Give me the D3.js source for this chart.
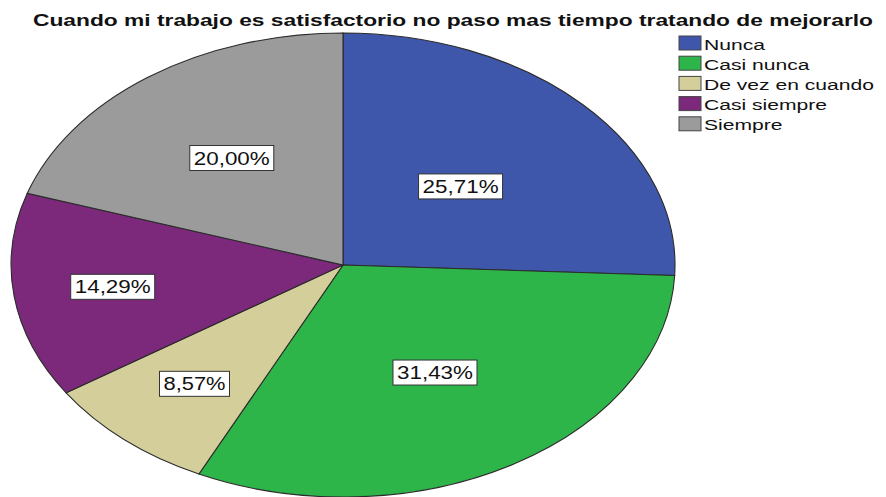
<!DOCTYPE html>
<meta charset="utf-8">
<head>
    <title>Cuando mi trabajo es satisfactorio</title>
    <style>
        body { margin: 0; background: #fff; }
        text { font-family: "Liberation Sans", Arial, sans-serif; fill: #111; }
    </style>
</head>
<body>
    <script src="https://cdn.jsdelivr.net/npm/d3@7"></script>
    <script>
        // data
        var categories = ["Nunca", "Casi nunca", "De vez en cuando", "Casi siempre", "Siempre"];
        var percents = [25.71, 31.43, 8.57, 14.29, 20.00];
        var colors = ["#3f57aa", "#2db54a", "#d4cf9a", "#7c297c", "#9b9b9b"];
        var titleText = "Cuando mi trabajo es satisfactorio no paso mas tiempo tratando de mejorarlo";

        // layout: the picture is an ellipse, so draw a unit pie and stretch it
        var width = 886, height = 497;
        var cx = 343, cy = 265, rx = 332, ry = 232;
        // label distance from centre, as a share of the radius
        var labelFrac = [0.49, 0.54, 0.68, 0.70, 0.57];

        var data = categories.map(function(c, i) {
            return {name: c, value: percents[i], color: colors[i], lf: labelFrac[i]};
        });

        var svg = d3.select("body").append("svg")
            .attr("width", width)
            .attr("height", height);

        // title, stretched like the original
        svg.append("text")
            .attr("x", 453)
            .attr("y", 26)
            .attr("text-anchor", "middle")
            .style("font-size", "17px")
            .style("font-weight", "bold")
            .attr("textLength", 840)
            .attr("lengthAdjust", "spacingAndGlyphs")
            .text(titleText);

        var pie = d3.pie().sort(null).value(d => d.value);
        var arcs = pie(data);
        var arc = d3.arc().innerRadius(0).outerRadius(1);

        var pieG = svg.append("g")
            .attr("transform", "translate(" + cx + "," + cy + ") scale(" + rx + "," + ry + ")");

        pieG.selectAll("path")
            .data(arcs)
            .enter().append("path")
            .attr("d", arc)
            .attr("fill", d => d.data.color)
            .attr("stroke", "#2b2b2b")
            .attr("stroke-width", 1.1)
            .attr("vector-effect", "non-scaling-stroke");

        // percentage labels in white boxes
        var fmt = v => v.toFixed(2).replace(".", ",") + "%";
        var labels = svg.selectAll("g.lbl")
            .data(arcs)
            .enter().append("g")
            .attr("class", "lbl")
            .attr("transform", function(d) {
                var a = (d.startAngle + d.endAngle) / 2;
                var x = cx + rx * Math.sin(a) * d.data.lf;
                var y = cy - ry * Math.cos(a) * d.data.lf;
                return "translate(" + x + "," + y + ")";
            });

        labels.append("rect")
            .attr("x", d => d.data.value < 10 ? -35 : -42)
            .attr("y", -12.5)
            .attr("width", d => d.data.value < 10 ? 70 : 84)
            .attr("height", 25)
            .attr("fill", "#fff")
            .attr("stroke", "#333")
            .attr("stroke-width", 1);

        labels.append("text")
            .attr("x", 0)
            .attr("y", 6.5)
            .attr("text-anchor", "middle")
            .style("font-size", "18px")
            .attr("textLength", d => d.data.value < 10 ? 62 : 76)
            .attr("lengthAdjust", "spacingAndGlyphs")
            .text(d => fmt(d.data.value));

        // legend
        var legend = svg.append("g")
            .attr("transform", "translate(679,36)");

        var rows = legend.selectAll("g")
            .data(data)
            .enter().append("g")
            .attr("transform", (d, i) => "translate(0," + (i * 20.2) + ")");

        rows.append("rect")
            .attr("width", 22)
            .attr("height", 14)
            .attr("fill", d => d.color)
            .attr("stroke", "#444")
            .attr("stroke-width", 1);

        rows.append("text")
            .attr("transform", "translate(25,13.5) scale(1.36,1)")
            .style("font-size", "15.5px")
            .text(d => d.name);
    </script>
</body>
</html>
